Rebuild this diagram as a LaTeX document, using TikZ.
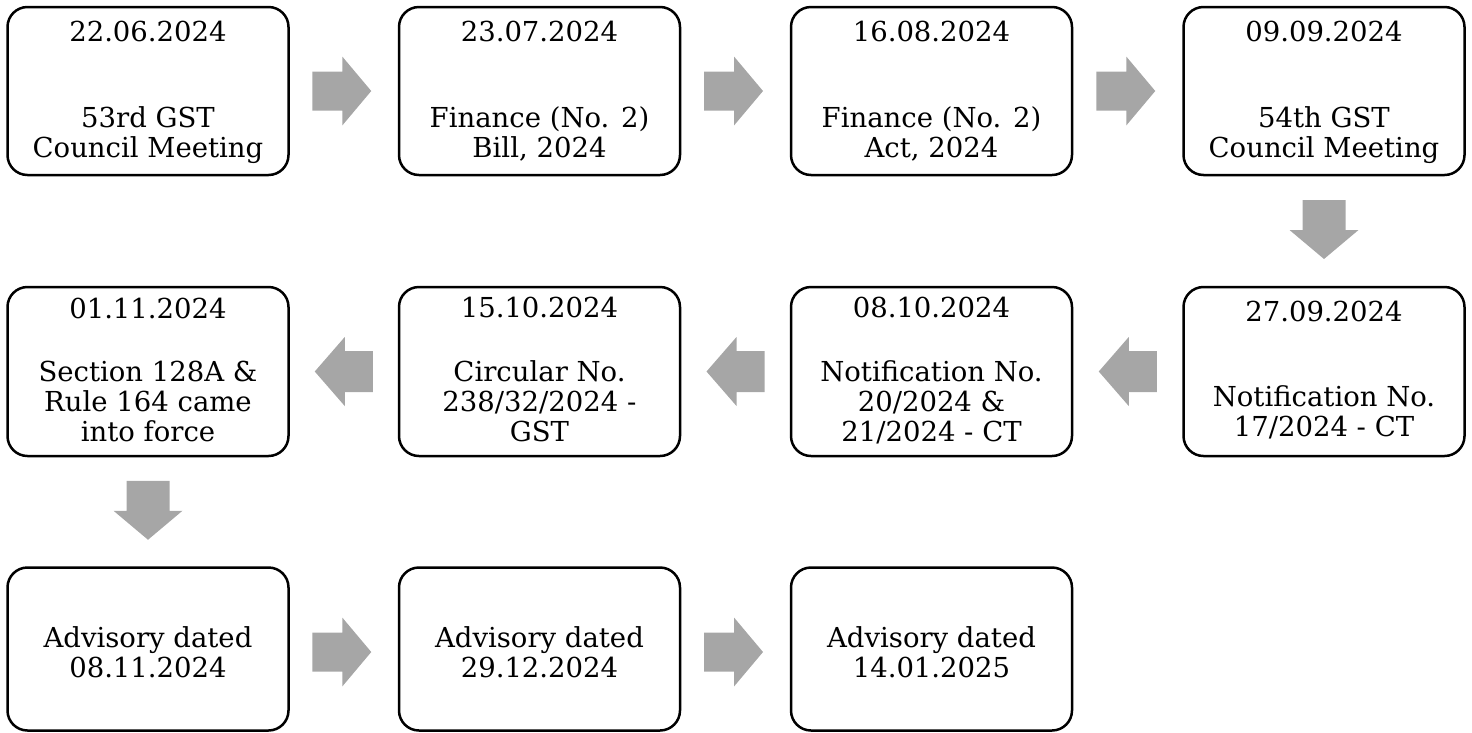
\documentclass[tikz,border=0pt]{standalone}
\usepackage{fontspec}
\setmainfont{DejaVu Serif}
\usetikzlibrary{calc}
\definecolor{arrowgray}{HTML}{A6A6A6}
\begin{document}
\begin{tikzpicture}[x=1pt,y=-1pt,
  box/.style={draw=black, line width=2.5pt, rounded corners=20pt, fill=white,
    minimum width=281pt, inner sep=0pt, outer sep=0pt},
  rowa/.style={box, minimum height=168pt},
  rowb/.style={box, minimum height=169pt},
  rowc/.style={box, minimum height=163pt},
  txt/.style={font=\fontsize{27.5}{30}\selectfont, align=center, inner sep=0pt,
    text depth=0pt, anchor=south},
  pics/rarrow/.style={code={\fill[arrowgray] (-29.5,-19.5) -- (0.5,-19.5) -- (0.5,-34.5)
      -- (29.5,0) -- (0.5,34.5) -- (0.5,19.5) -- (-29.5,19.5) -- cycle;}},
  pics/larrow/.style={code={\fill[arrowgray] (29,-20.5) -- (1,-20.5) -- (1,-34.5)
      -- (-29,0) -- (1,34.5) -- (1,20.5) -- (29,20.5) -- cycle;}},
  pics/darrow/.style={code={\fill[arrowgray] (-21.5,-29.5) -- (21.5,-29.5) -- (21.5,0.5)
      -- (34.5,0.5) -- (0,29.5) -- (-34.5,0.5) -- (-21.5,0.5) -- cycle;}}]
\useasboundingbox (0,0) rectangle (1472,732);

% boxes
\node[rowa] (b1) at (148,91) {};
\node[rowa] (b2) at (539.5,91) {};
\node[rowa] (b3) at (931.5,91) {};
\node[rowa] (b4) at (1324,91) {};
\node[rowb] (b5) at (1324,371.5) {};
\node[rowb] (b6) at (931.5,371.5) {};
\node[rowb] (b7) at (539.5,371.5) {};
\node[rowb] (b8) at (148,371.5) {};
\node[rowc] (b9) at (148,649) {};
\node[rowc] (b10) at (539.5,649) {};
\node[rowc] (b11) at (931.5,649) {};

% dates
\node[txt] (d1) at ([yshift=-35pt]b1.north) {22.06.2024};
\node[txt] (d2) at ([yshift=-35pt]b2.north) {23.07.2024};
\node[txt] (d3) at ([yshift=-35pt]b3.north) {16.08.2024};
\node[txt] (d4) at ([yshift=-35pt]b4.north) {09.09.2024};
\node[txt] (d5) at ([yshift=-35pt]b5.north) {27.09.2024};
\node[txt] (d6) at ([yshift=-31pt]b6.north) {08.10.2024};
\node[txt] (d7) at ([yshift=-31pt]b7.north) {15.10.2024};
\node[txt] (d8) at ([yshift=-32pt]b8.north) {01.11.2024};

% bodies
\node[txt] (t1) at ([yshift=-151pt]b1.north) {53rd GST\\Council Meeting};
\node[txt] (t2) at ([yshift=-151pt]b2.north) {Finance (No. 2)\\Bill, 2024};
\node[txt] (t3) at ([yshift=-151pt]b3.north) {Finance (No. 2)\\Act, 2024};
\node[txt] (t4) at ([yshift=-151pt]b4.north) {54th GST\\Council Meeting};
\node[txt] (t5) at ([yshift=-150pt]b5.north) {Notification No.\\17/2024 - CT};
\node[txt] (t6) at ([yshift=-155pt]b6.north) {Notification No.\\20/2024 \&\\21/2024 - CT};
\node[txt] (t7) at ([yshift=-155pt]b7.north) {Circular No.\\238/32/2024 -\\GST};
\node[txt] (t8) at ([yshift=-155pt]b8.north) {Section 128A \&\\Rule 164 came\\into force};
\node[txt] (t9) at ([yshift=-110pt]b9.north) {Advisory dated\\08.11.2024};
\node[txt] (t10) at ([yshift=-110pt]b10.north) {Advisory dated\\29.12.2024};
\node[txt] (t11) at ([yshift=-110pt]b11.north) {Advisory dated\\14.01.2025};

% arrow positions between named boxes
\coordinate (m1) at ($(b1.east)!0.5!(b2.west)+(-2,0)$);
\coordinate (m2) at ($(b2.east)!0.5!(b3.west)+(-2,0)$);
\coordinate (m3) at ($(b3.east)!0.5!(b4.west)+(-2,0)$);
\coordinate (m4) at ($(b4.south)!0.5!(b5.north)+(0,-1.5)$);
\coordinate (m5) at ($(b6.east)!0.5!(b5.west)$);
\coordinate (m6) at ($(b7.east)!0.5!(b6.west)$);
\coordinate (m7) at ($(b8.east)!0.5!(b7.west)$);
\coordinate (m8) at ($(b8.south)!0.5!(b9.north)+(0,-1.5)$);
\coordinate (m9) at ($(b9.east)!0.5!(b10.west)+(-2,3)$);
\coordinate (m10) at ($(b10.east)!0.5!(b11.west)+(-2,3)$);

\pic at (m1) {rarrow};
\pic at (m2) {rarrow};
\pic at (m3) {rarrow};
\pic at (m4) {darrow};
\pic at (m5) {larrow};
\pic at (m6) {larrow};
\pic at (m7) {larrow};
\pic at (m8) {darrow};
\pic at (m9) {rarrow};
\pic at (m10) {rarrow};
\end{tikzpicture}
\end{document}
